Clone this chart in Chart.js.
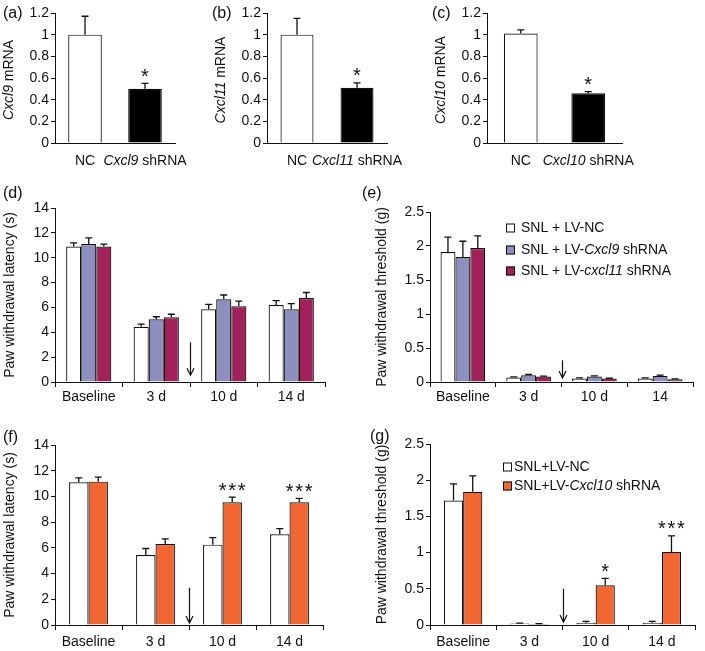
<!DOCTYPE html>
<html>
<head>
<meta charset="utf-8">
<script src="https://cdn.jsdelivr.net/npm/chart.js@4.4.1/dist/chart.umd.min.js"></script>
<style>
  body { margin: 0; background: #fff; }
  #fig { position: relative; width: 705px; height: 651px; font-family: "Liberation Sans", Arial, sans-serif; }
  #fig canvas { position: absolute; }
  .lbl { position: absolute; font-size: 16px; line-height: 18px; color: #111; }
</style>
</head>
<body>
<div id="fig">
  <canvas id="pa" width="212" height="195" style="left:0;top:0"></canvas>
  <canvas id="pb" width="218" height="195" style="left:212px;top:0"></canvas>
  <canvas id="pc" width="275" height="195" style="left:430px;top:0"></canvas>
  <canvas id="pd" width="350" height="225" style="left:0;top:195px"></canvas>
  <canvas id="pe" width="355" height="225" style="left:350px;top:195px"></canvas>
  <canvas id="pf" width="350" height="231" style="left:0;top:420px"></canvas>
  <canvas id="pg" width="355" height="231" style="left:350px;top:420px"></canvas>
  <div class="lbl" style="left:3px;top:4px">(a)</div>
  <div class="lbl" style="left:212px;top:4px">(b)</div>
  <div class="lbl" style="left:432px;top:4px">(c)</div>
  <div class="lbl" style="left:3px;top:184px">(d)</div>
  <div class="lbl" style="left:362px;top:184px">(e)</div>
  <div class="lbl" style="left:3px;top:428px">(f)</div>
  <div class="lbl" style="left:370px;top:427px">(g)</div>
</div>
<script>
// ---- data ----
const catsA = ['NC', 'Cxcl9 shRNA'];
const valsA = [1.0, 0.5];
const errA = [1.17, 0.55];
const starsA = ['', '*'];

const catsB = ['NC', 'Cxcl11 shRNA'];
const valsB = [1.0, 0.51];
const errB = [1.15, 0.555];
const starsB = ['', '*'];

const catsC = ['NC', 'Cxcl10 shRNA'];
const valsC = [1.01, 0.46];
const errC = [1.045, 0.475];
const starsC = ['', '*'];

const mrnaTicks = [0, 0.2, 0.4, 0.6, 0.8, 1, 1.2];
const latTicks = [0, 2, 4, 6, 8, 10, 12, 14];
const thrTicks = [0, 0.5, 1, 1.5, 2, 2.5];

const days = ['Baseline', '3 d', '10 d', '14 d'];
const daysE = ['Baseline', '3 d', '10 d', '14'];

// (d) latency, Cxcl9 / Cxcl11
const dNC = [10.9, 4.45, 5.85, 6.2];
const dNCerr = [11.2, 4.65, 6.25, 6.55];
const dC9 = [11.1, 5.05, 6.65, 5.85];
const dC9err = [11.6, 5.25, 7.0, 6.3];
const dC11 = [10.9, 5.2, 6.1, 6.75];
const dC11err = [11.1, 5.45, 6.5, 7.2];

// (e) threshold, Cxcl9 / Cxcl11
const eNC = [1.91, 0.065, 0.05, 0.05];
const eNCerr = [2.13, 0.075, 0.06, 0.06];
const eC9 = [1.84, 0.1, 0.08, 0.09];
const eC9err = [2.07, 0.11, 0.09, 0.1];
const eC11 = [1.97, 0.08, 0.05, 0.04];
const eC11err = [2.15, 0.085, 0.055, 0.045];

// (f) latency, Cxcl10
const fNC = [11.1, 5.45, 6.25, 7.05];
const fNCerr = [11.45, 5.95, 6.8, 7.5];
const fC10 = [11.15, 6.3, 9.55, 9.55];
const fC10err = [11.5, 6.7, 9.95, 9.85];
const fStars = ['', '', '***', '***'];

// (g) threshold, Cxcl10
const gNC = [1.72, 0.02, 0.03, 0.03];
const gNCerr = [1.95, 0.025, 0.05, 0.05];
const gC10 = [1.84, 0.015, 0.55, 1.01];
const gC10err = [2.06, 0.02, 0.645, 1.23];
const gStars = ['', '', '*', '***'];

const FONT = '"Liberation Sans", Arial, sans-serif';
const WHITE = '#ffffff', BLACK = '#000000', BLUE = '#8d8fbe', RED = '#a3215a', ORANGE = '#f26632';
const INK = '#111111';

Chart.defaults.font.family = FONT;
Chart.defaults.font.size = 14;
Chart.defaults.color = INK;

// text with italic gene names
function rich(ctx, str, x, y, size, align) {
  const parts = str.split(/([Cc]xcl\d+)/).filter(Boolean);
  const fonts = parts.map(p => (/^[Cc]xcl\d+$/.test(p) ? 'italic ' : '') + size + 'px ' + FONT);
  const widths = parts.map((p, i) => { ctx.font = fonts[i]; return ctx.measureText(p).width; });
  const total = widths.reduce((a, b) => a + b, 0);
  let cx = align === 'center' ? x - total / 2 : align === 'right' ? x - total : x;
  ctx.textAlign = 'left';
  ctx.textBaseline = 'middle';
  parts.forEach((p, i) => { ctx.font = fonts[i]; ctx.fillText(p, cx, y); cx += widths[i]; });
}

const extras = {
  id: 'extras',
  afterDatasetsDraw(chart) {
    const ctx = chart.ctx, ys = chart.scales.y, area = chart.chartArea;
    ctx.save();
    ctx.strokeStyle = INK;
    ctx.fillStyle = INK;
    // baseline over the bar bottoms
    const y0 = Math.round(ys.getPixelForValue(0)) + 0.5;
    ctx.lineWidth = 1;
    ctx.beginPath();
    ctx.moveTo(area.left, y0);
    ctx.lineTo(area.right, y0);
    ctx.stroke();
    ctx.lineWidth = 1.3;
    chart.data.datasets.forEach((ds, i) => {
      const meta = chart.getDatasetMeta(i);
      meta.data.forEach((bar, j) => {
        const top = ys.getPixelForValue(ds.errorBars[j]);
        ctx.beginPath();
        ctx.moveTo(bar.x, bar.y);
        ctx.lineTo(bar.x, top);
        ctx.moveTo(bar.x - 3.5, top);
        ctx.lineTo(bar.x + 3.5, top);
        ctx.stroke();
        const s = ds.stars ? ds.stars[j] : '';
        if (s) {
          ctx.font = '20px ' + FONT;
          ctx.textAlign = 'center';
          ctx.textBaseline = 'alphabetic';
          for (let k = 0; k < s.length; k++) {
            ctx.fillText('*', bar.x + (k - (s.length - 1) / 2) * 9.5, top - 0.5);
          }
        }
      });
    });
    ctx.restore();
  },
  afterDraw(chart, args, o) {
    const ctx = chart.ctx, area = chart.chartArea, xs = chart.scales.x, ys = chart.scales.y;
    ctx.save();
    ctx.fillStyle = INK;
    ctx.strokeStyle = INK;
    if (o.richX) {
      chart.data.labels.forEach((l, i) => rich(ctx, l, xs.getPixelForValue(i), area.bottom + 18, 14, 'center'));
    }
    if (o.richTitle) {
      ctx.save();
      ctx.translate(area.left - 46, (area.top + area.bottom) / 2 + 2);
      ctx.rotate(-Math.PI / 2);
      rich(ctx, o.richTitle, 0, 0, 14, 'center');
      ctx.restore();
    }
    if (o.arrow) {
      const x = Math.round((xs.getPixelForValue(1) + xs.getPixelForValue(2)) / 2) + 0.5;
      const y0 = ys.getPixelForValue(o.arrow[0]), y1 = ys.getPixelForValue(o.arrow[1]);
      ctx.lineWidth = 1.2;
      ctx.beginPath();
      ctx.moveTo(x, y0); ctx.lineTo(x, y1);
      ctx.moveTo(x - 3.5, y1 - 7); ctx.lineTo(x, y1); ctx.lineTo(x + 3.5, y1 - 7);
      ctx.stroke();
    }
    if (o.legend) {
      const L = o.legend;
      chart.data.datasets.forEach((ds, i) => {
        const cy = Math.round(area.top + L.y + i * L.gap);
        const bx = Math.round(area.left + L.x);
        ctx.fillStyle = ds.backgroundColor;
        ctx.fillRect(bx, cy - 4.5, 9, 9);
        ctx.lineWidth = 1;
        ctx.strokeStyle = INK;
        ctx.strokeRect(bx + 0.5, cy - 4, 8, 8);
        ctx.fillStyle = INK;
        rich(ctx, ds.label, bx + L.tx, cy, 14, 'left');
      });
    }
    ctx.restore();
  }
};

function makeChart(id, c) {
  return new Chart(document.getElementById(id), {
    type: 'bar',
    data: { labels: c.labels, datasets: c.datasets },
    options: {
      responsive: false,
      animation: false,
      devicePixelRatio: 1,
      layout: { padding: c.pad },
      datasets: { bar: { categoryPercentage: c.catPct, barPercentage: c.barPct, borderWidth: 1.2, borderColor: INK, borderSkipped: 'start' } },
      plugins: {
        legend: { display: false },
        tooltip: { enabled: false },
        extras: { richX: c.richX, richTitle: c.richTitle, arrow: c.arrow, legend: c.legend }
      },
      scales: {
        x: {
          grid: { display: true, drawOnChartArea: false, drawTicks: !c.richX, tickLength: 5, color: INK },
          border: { display: true, color: INK, width: 1 },
          ticks: { display: !c.richX, padding: c.xPad, maxRotation: 0, autoSkip: false, color: INK },
          afterFit: s => { s.height = c.xh; }
        },
        y: {
          min: 0,
          max: c.ticks[c.ticks.length - 1],
          afterBuildTicks: s => { s.ticks = c.ticks.map(v => ({ value: v })); },
          grid: { drawOnChartArea: false, drawTicks: true, tickLength: 4, color: INK },
          border: { display: true, color: INK, width: 1 },
          ticks: { padding: 2, color: INK, callback: v => String(v) },
          title: c.yTitle ? { display: true, text: c.yTitle, padding: { top: 2, bottom: 0 }, font: { size: 14 }, color: INK } : { display: false },
          afterFit: s => { s.width = c.yw; }
        }
      }
    },
    plugins: [extras]
  });
}

// top row
makeChart('pa', {
  labels: catsA,
  datasets: [{ data: valsA, backgroundColor: [WHITE, BLACK], errorBars: errA, stars: starsA }],
  pad: { left: 0, top: 13, right: 37, bottom: 0 }, yw: 55, xh: 52,
  ticks: mrnaTicks, catPct: 1, barPct: 0.56, richX: true, richTitle: 'Cxcl9 mRNA'
});
makeChart('pb', {
  labels: catsB,
  datasets: [{ data: valsB, backgroundColor: [WHITE, BLACK], errorBars: errB, stars: starsB }],
  pad: { left: 0, top: 13, right: 43, bottom: 0 }, yw: 55, xh: 52,
  ticks: mrnaTicks, catPct: 1, barPct: 0.55, richX: true, richTitle: 'Cxcl11 mRNA'
});
makeChart('pc', {
  labels: catsC,
  datasets: [{ data: valsC, backgroundColor: [WHITE, BLACK], errorBars: errC, stars: starsC }],
  pad: { left: 0, top: 13, right: 83, bottom: 0 }, yw: 57, xh: 52,
  ticks: mrnaTicks, catPct: 1, barPct: 0.5, richX: true, richTitle: 'Cxcl10 mRNA'
});

// (d)
makeChart('pd', {
  labels: days,
  datasets: [
    { label: 'SNL + LV-NC', data: dNC, backgroundColor: WHITE, errorBars: dNCerr },
    { label: 'SNL + LV-Cxcl9 shRNA', data: dC9, backgroundColor: BLUE, errorBars: dC9err },
    { label: 'SNL + LV-cxcl11 shRNA', data: dC11, backgroundColor: RED, errorBars: dC11err }
  ],
  pad: { left: 0, top: 13, right: 25, bottom: 0 }, yw: 55, xh: 38, xPad: 2,
  ticks: latTicks, catPct: 0.67, barPct: 1, yTitle: 'Paw withdrawal latency (s)', arrow: [3.2, 0.55]
});

// (e)
makeChart('pe', {
  labels: daysE,
  datasets: [
    { label: 'SNL + LV-NC', data: eNC, backgroundColor: WHITE, errorBars: eNCerr },
    { label: 'SNL + LV-Cxcl9 shRNA', data: eC9, backgroundColor: BLUE, errorBars: eC9err },
    { label: 'SNL + LV-cxcl11 shRNA', data: eC11, backgroundColor: RED, errorBars: eC11err }
  ],
  pad: { left: 22, top: 17, right: 12, bottom: 0 }, yw: 58, xh: 38, xPad: 2,
  ticks: thrTicks, catPct: 0.68, barPct: 1, yTitle: 'Paw withdrawal threshold (g)', arrow: [0.32, 0.06],
  legend: { x: 76, y: 16, gap: 21.5, tx: 15 }
});

// (f)
makeChart('pf', {
  labels: days,
  datasets: [
    { label: 'SNL+LV-NC', data: fNC, backgroundColor: WHITE, errorBars: fNCerr },
    { label: 'SNL+LV-Cxcl10 shRNA', data: fC10, backgroundColor: ORANGE, errorBars: fC10err, stars: fStars }
  ],
  pad: { left: 0, top: 25, right: 27, bottom: 0 }, yw: 55, xh: 26, xPad: 4,
  ticks: latTicks, catPct: 0.58, barPct: 1, yTitle: 'Paw withdrawal latency (s)', arrow: [2.9, 0.15]
});

// (g)
makeChart('pg', {
  labels: days,
  datasets: [
    { label: 'SNL+LV-NC', data: gNC, backgroundColor: WHITE, errorBars: gNCerr },
    { label: 'SNL+LV-Cxcl10 shRNA', data: gC10, backgroundColor: ORANGE, errorBars: gC10err, stars: gStars }
  ],
  pad: { left: 22, top: 24, right: 10, bottom: 0 }, yw: 58, xh: 26, xPad: 4,
  ticks: thrTicks, catPct: 0.58, barPct: 1, yTitle: 'Paw withdrawal threshold (g)', arrow: [0.5, 0.04],
  legend: { x: 73, y: 23, gap: 19, tx: 11 }
});
</script>
</body>
</html>
